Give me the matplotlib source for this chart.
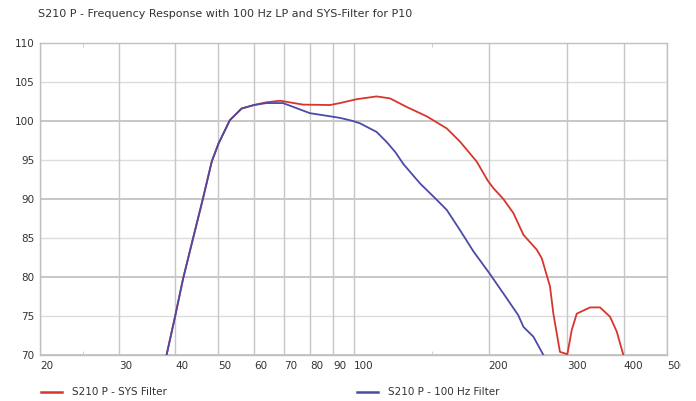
import matplotlib.pyplot as plt
from matplotlib.lines import Line2D
from matplotlib.ticker import NullFormatter
from matplotlib.transforms import Bbox, TransformedBbox

# values (Hz, dB)
freq_sys = [38.3, 40, 41.7, 43.9, 46.1, 48.3, 50, 53.0, 56.3, 60, 64, 68.6, 77.2, 88.7, 93.3,
            101.7, 112.6, 120.6, 131.4, 145.6, 161.4, 172.8, 188.2, 199.5, 205.0, 215.8, 227.2,
            239.3, 256.2, 262.9, 274.2, 279.0, 288.6, 299.8, 306.6, 314.6, 336.8, 354.6, 373.3,
            386.3, 399.6]
spl_sys = [70, 74.9, 79.8, 85, 89.9, 94.8, 97.1, 100.1, 101.6, 102.05, 102.4, 102.6, 102.1, 102.05, 102.3,
           102.8, 103.15, 102.9, 101.8, 100.6, 99.05, 97.35, 94.8, 92.3, 91.4, 90.0, 88.2,
           85.4, 83.5, 82.4, 78.8, 75.3, 70.4, 70.1, 73.2, 75.3, 76.1, 76.1, 74.9,
           73.0, 70.0]

freq_lp = [38.3, 40, 41.7, 43.9, 46.1, 48.3, 50, 53.0, 56.3, 60, 64, 69.6, 80, 88.7, 93.3,
           99.7, 103.4, 112.6, 118.6, 124.0, 129.1, 140.7, 153.3, 161.4, 172.8, 185.0, 200.8, 215.8,
           233.0, 239.3, 251.8, 265.1]
spl_lp = [70, 74.9, 79.8, 85, 89.9, 94.8, 97.1, 100.1, 101.6, 102.05, 102.3, 102.3, 101.0, 100.6, 100.4,
          100.0, 99.7, 98.6, 97.3, 96.0, 94.5, 92.0, 89.9, 88.6, 86.0, 83.3, 80.5, 77.9,
          75.1, 73.6, 72.35, 70.0]

x_ticks = [20, 30, 40, 50, 60, 70, 80, 90, 100, 200, 300, 400, 500]
y_ticks = [70, 75, 80, 85, 90, 95, 100, 105, 110]

title = 'S210 P - Frequency Response with 100 Hz LP and SYS-Filter for P10'
label_sys = 'S210 P - SYS Filter'
label_lp = 'S210 P - 100 Hz Filter'

red = '#d8352c'
blue = '#4b4aa6'
txt = '#333333'

fig = plt.figure(figsize=(6.96, 4.01), dpi=100)
ax = fig.add_axes([40/696, 1 - 355/401, 627/696, 312/401])
ax.set_xscale('log')
ax.set_xlim(20, 500)
ax.set_ylim(70, 110)

# grid
for y in y_ticks:
    if y % 10 == 0:
        ax.axhline(y, color='#bdbdbd', lw=1.2, zorder=0)
    else:
        ax.axhline(y, color='#dcdcdc', lw=1.0, zorder=0)
for x in x_ticks:
    ax.axvline(x, color='#c6c6c6', lw=1.0, zorder=0)

for s in ax.spines.values():
    s.set_color('#c0c0c0')
    s.set_linewidth(1.0)

ax.set_xticks(x_ticks, labels=[str(t) for t in x_ticks])
ax.set_xticks([25, 150], minor=True)
ax.xaxis.set_minor_formatter(NullFormatter())
ax.set_yticks(y_ticks, labels=[str(t) for t in y_ticks])
ax.tick_params(axis='both', which='major', length=0, labelsize=7.5, labelcolor=txt)
ax.tick_params(axis='x', which='major', pad=4)
ax.tick_params(axis='y', which='major', pad=4)
ax.tick_params(axis='x', which='minor', length=3, direction='in', top=True, color='#c8c8c8')

clip = TransformedBbox(Bbox([[0, 0], [681/696, 1]]), fig.transFigure)
for lbl in ax.get_xticklabels():
    lbl.set_ha('left')
    lbl.set_clip_on(True)
    lbl.set_clip_box(clip)

ax.plot(freq_sys, spl_sys, color=red, lw=1.3, zorder=3)
ax.plot(freq_lp, spl_lp, color=blue, lw=1.3, zorder=4)

fig.text(38/696, 1 - 14/401, title, fontsize=8, color=txt, va='center', ha='left')

# legend
ly = 1 - 392/401
fig.add_artist(Line2D([41/696, 62/696], [ly, ly], color=red, lw=1.8))
fig.text(72/696, ly, label_sys, fontsize=7.5, color=txt, va='center', ha='left')
fig.add_artist(Line2D([357/696, 378/696], [ly, ly], color=blue, lw=1.8))
fig.text(388/696, ly, label_lp, fontsize=7.5, color=txt, va='center', ha='left')

fig.savefig('out.png', dpi=100)
